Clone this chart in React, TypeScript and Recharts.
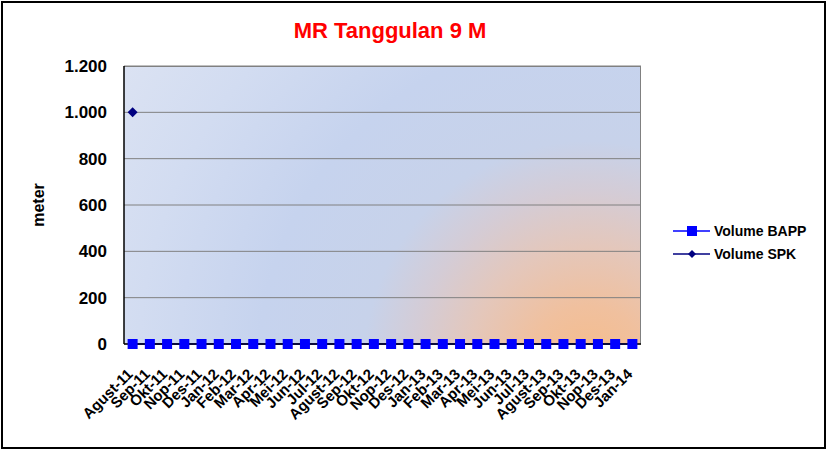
import { LineChart, Line, XAxis, YAxis, CartesianGrid } from 'recharts';

const months = [
  'Agust-11', 'Sep-11', 'Okt-11', 'Nop-11', 'Des-11', 'Jan-12', 'Feb-12', 'Mar-12', 'Apr-12', 'Mei-12',
  'Jun-12', 'Jul-12', 'Agust-12', 'Sep-12', 'Okt-12', 'Nop-12', 'Des-12', 'Jan-13', 'Feb-13', 'Mar-13',
  'Apr-13', 'Mei-13', 'Jun-13', 'Jul-13', 'Agust-13', 'Sep-13', 'Okt-13', 'Nop-13', 'Des-13', 'Jan-14',
];

const volumeBapp = [
  0, 0, 0, 0, 0, 0, 0, 0, 0, 0,
  0, 0, 0, 0, 0, 0, 0, 0, 0, 0,
  0, 0, 0, 0, 0, 0, 0, 0, 0, 0,
];

const volumeSpk: (number | null)[] = [
  1000, null, null, null, null, null, null, null, null, null,
  null, null, null, null, null, null, null, null, null, null,
  null, null, null, null, null, null, null, null, null, null,
];

const yTicks = [0, 200, 400, 600, 800, 1000, 1200];

const data = months.map((m, i) => ({ month: m, bapp: volumeBapp[i], spk: volumeSpk[i] }));

const FONT = "Arial, 'Liberation Sans', sans-serif";

const fmt = (v: number) => v.toString().replace(/\B(?=(\d{3})+(?!\d))/g, '.');

const SquareDot = (props: any) => {
  const { cx, cy, value, index } = props;
  if (value == null || cx == null || cy == null) return <g key={'b' + index} />;
  return <rect key={'b' + index} x={cx - 5} y={cy - 5} width={10} height={10} fill="#0000ff" />;
};

const DiamondDot = (props: any) => {
  const { cx, cy, value, index } = props;
  if (value == null || cx == null || cy == null) return <g key={'s' + index} />;
  return <polygon key={'s' + index} points={`${cx},${cy - 5} ${cx + 5},${cy} ${cx},${cy + 5} ${cx - 5},${cy}`} fill="#000080" />;
};

const XTick = ({ x, y, payload }: any) => {
  const tx = x + 1;
  const ty = y + 23;
  return (
    <text x={tx} y={ty} transform={`rotate(-45 ${tx} ${ty})`} textAnchor="end"
      fontFamily={FONT} fontWeight="bold" fontSize={15} fill="#000">
      {payload.value}
    </text>
  );
};

const legendItems = [
  { name: 'Volume BAPP', color: '#0000ff', square: true },
  { name: 'Volume SPK', color: '#000080', square: false },
];

export default function App() {
  return (
    <div style={{ position: 'absolute', left: 0, top: 0, width: 827, height: 450, background: '#fff' }}>
      <div style={{
        position: 'absolute', left: 1, top: 1, width: 825, height: 448,
        border: '2px solid #000', boxSizing: 'border-box',
      }} />
      <div style={{
        position: 'absolute', left: 124, top: 66, width: 517, height: 278, boxSizing: 'border-box',
        borderTop: '1px solid #808080', borderRight: '1px solid #808080',
        background: 'radial-gradient(circle at 90% 108%, #f6bc8a 0px, #f0c09e 60px, #e4c7bb 120px, #d4ccd6 175px, #c7d2ea 225px, #c6d3ee 330px, #d2dcf1 450px, #dfe5f3 600px)',
      }} />
      <div style={{
        position: 'absolute', left: 0, top: 18, width: 780, textAlign: 'center',
        fontFamily: FONT, fontWeight: 'bold', fontSize: 22, color: '#ff0000',
      }}>
        MR Tanggulan 9 M
      </div>
      <div style={{ position: 'absolute', left: 0, top: 0 }}>
        <LineChart width={827} height={450} data={data}
          margin={{ top: 66, right: 186, bottom: 0, left: 20 }}>
          <CartesianGrid vertical={false} stroke="#808080" strokeWidth={1} />
          <XAxis dataKey="month" scale="band" interval={0} tick={<XTick />} tickLine={false}
            axisLine={{ stroke: '#000', strokeWidth: 1.5 }} height={106} />
          <YAxis domain={[0, 1200]} ticks={yTicks} tickFormatter={fmt} width={104}
            tickLine={false} tickSize={6} tickMargin={11}
            axisLine={{ stroke: '#000', strokeWidth: 1.5 }}
            tick={{ fill: '#000', fontFamily: FONT, fontWeight: 'bold', fontSize: 17 }}
            label={{ value: 'meter', angle: -90, position: 'insideLeft', offset: 0, dx: 18,
              style: { fill: '#000', fontFamily: FONT, fontWeight: 'bold', fontSize: 16, textAnchor: 'middle' } }} />
          <Line type="linear" dataKey="bapp" stroke="#0000ff" strokeWidth={1.5}
            dot={<SquareDot />} activeDot={false} isAnimationActive={false} />
          <Line type="linear" dataKey="spk" stroke="#000080" strokeWidth={1.5}
            dot={<DiamondDot />} activeDot={false} isAnimationActive={false} />
        </LineChart>
      </div>
      <div style={{
        position: 'absolute', left: 672, top: 219, fontFamily: FONT, fontWeight: 'bold', fontSize: 14, color: '#000',
      }}>
        {legendItems.map((it) => (
          <div key={it.name} style={{ display: 'flex', alignItems: 'center', height: 23 }}>
            <svg width={40} height={12} style={{ marginRight: 2 }}>
              <line x1={1} y1={6} x2={38} y2={6} stroke={it.color} strokeWidth={1.5} />
              {it.square
                ? <rect x={15} y={1} width={10} height={10} fill={it.color} />
                : <polygon points="20,2 24,6 20,10 16,6" fill={it.color} />}
            </svg>
            <span>{it.name}</span>
          </div>
        ))}
      </div>
    </div>
  );
}
